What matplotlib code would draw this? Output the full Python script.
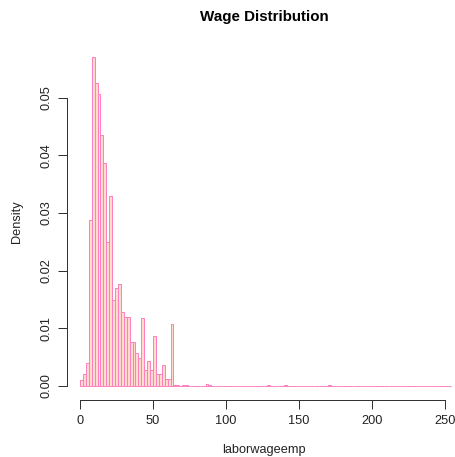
import numpy as np
import matplotlib
matplotlib.use("Agg")
import matplotlib.pyplot as plt

plt.rcParams['font.family'] = ['Liberation Sans', 'DejaVu Sans']

# Histogram bins (width 2) and densities
bin_width = 2
main_density = [0.0010, 0.0020, 0.0039, 0.0287, 0.0571, 0.0525, 0.0506, 0.0435,
                0.0386, 0.0250, 0.0329, 0.0149, 0.0169, 0.0177, 0.0129, 0.0119,
                0.0119, 0.0077, 0.0076, 0.0057, 0.0049, 0.0117, 0.0028, 0.0044,
                0.0028, 0.0087, 0.0020, 0.0020, 0.0036, 0.0012, 0.0012, 0.0107]
# sparse tail: (bin start, density)
tail_bins = [64, 66, 70, 72, 86, 88, 128, 140, 170]
tail_density = [0.0002, 0.0001, 0.0002, 0.0001, 0.0003, 0.0002, 0.0002, 0.0001, 0.0001]
max_break = 254

x_ticks = [0, 50, 100, 150, 200, 250]
y_ticks = [0.00, 0.01, 0.02, 0.03, 0.04, 0.05]

edges = np.arange(0, max_break, bin_width)
dens = np.zeros(len(edges))
dens[:len(main_density)] = main_density
for b, d in zip(tail_bins, tail_density):
    dens[b // bin_width] = d

W, H = 456, 457
fig = plt.figure(figsize=(W / 100, H / 100), dpi=100)
left_px, right_px, top_px, bot_px = 67.3, 461, 43.3, 400
ax = fig.add_axes([left_px / W, 1 - bot_px / H, (right_px - left_px) / W, (bot_px - top_px) / H])

x0 = -8.7
x1 = 261
ax.set_xlim(x0, x1)
ax.set_ylim(-(400 - 386) / 5770, (386 - 43.3) / 5770)

ax.bar(edges, dens, width=bin_width, align='edge', color='#FFDCCB',
       edgecolor='#FF80C0', linewidth=0.72)

for s in ['top', 'right']:
    ax.spines[s].set_visible(False)
ax.spines['left'].set_bounds(0, 0.05)
ax.spines['bottom'].set_bounds(0, 250)
for s in ['left', 'bottom']:
    ax.spines[s].set_linewidth(0.72)
    ax.spines[s].set_color('#333333')

fs = 9.2
ax.set_xticks(x_ticks)
ax.set_xticklabels([str(t) for t in x_ticks])
ax.set_yticks(y_ticks)
ax.set_yticklabels([f"{t:.2f}" for t in y_ticks], rotation=90, va='center')
ax.tick_params(axis='both', length=6.5, width=0.72, color='#333333', labelsize=fs,
               labelcolor='#222222')
ax.tick_params(axis='x', pad=4.5)
ax.tick_params(axis='y', pad=4.5)

ax.set_xlabel('laborwageemp', fontsize=fs, color='#222222', labelpad=12)
ax.set_ylabel('Density', fontsize=fs, color='#222222', labelpad=12)
ax.set_title('Wage Distribution', fontsize=10.9, fontweight='bold', pad=16)

fig.savefig('out.png', dpi=100)
